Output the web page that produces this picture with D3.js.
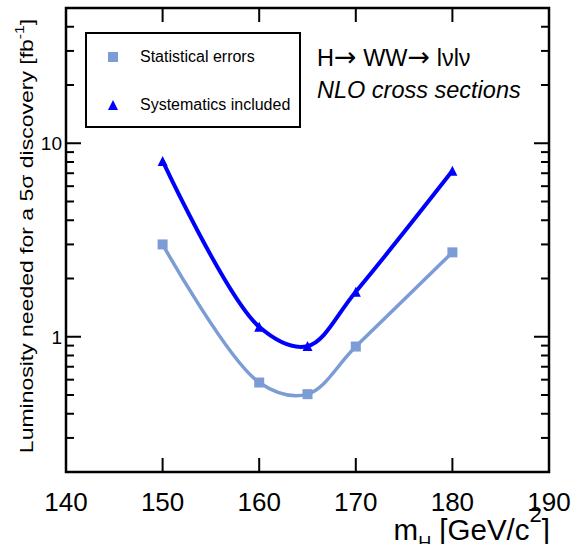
<!DOCTYPE html>
<html lang="en">
<head>
  <meta charset="UTF-8">
  <title>Luminosity for 5 sigma discovery</title>
  <style>
    *{ margin:0; padding:0; }
    body{ background:#fff; }
    text{ font-family: "Liberation Sans", Arial, sans-serif; }
  </style>
  <script src="https://cdn.jsdelivr.net/npm/d3@7"></script>
</head>
<body>
  <svg id="mainsvg"></svg>
  <script>
    // data
    const masses = [150, 160, 165, 170, 180]
    const statErrors = [3.0, 0.58, 0.505, 0.89, 2.73]
    const systIncluded = [8.1, 1.125, 0.895, 1.71, 7.2]
    const xTicks = [140, 150, 160, 170, 180, 190]
    const yMajorTicks = [1, 10]
    const yMinorTicks = [0.3, 0.4, 0.5, 0.6, 0.7, 0.8, 0.9, 2, 3, 4, 5, 6, 7, 8, 9, 20, 30, 40]
    const legendLabels = ['Statistical errors', 'Systematics included']

    const width = 575, height = 544
    const margin = { left: 66, top: 8, right: 26, bottom: 72 }
    const innerWidth = width - margin.left - margin.right
    const innerHeight = height - margin.top - margin.bottom

    const svg = d3.select('#mainsvg').attr('width', width).attr('height', height)
    const g = svg.append('g').attr('transform', `translate(${margin.left},${margin.top})`)

    const x = d3.scaleLinear().domain([140, 190]).range([0, innerWidth])
    const y = d3.scaleLog().domain([0.2, 50]).range([innerHeight, 0])

    const lightBlue = '#7b9cd4'
    const blue = '#0000ff'

    // ticks, drawn on all four sides pointing inwards
    const innerTicks = xTicks.filter(d => d > 140 && d < 190)
    const tickG = g.append('g').attr('stroke', '#000').attr('stroke-width', 2)
    innerTicks.forEach(d => {
      tickG.append('line').attr('x1', x(d)).attr('x2', x(d)).attr('y1', innerHeight).attr('y2', innerHeight - 14)
      tickG.append('line').attr('x1', x(d)).attr('x2', x(d)).attr('y1', 0).attr('y2', 14)
    })
    yMajorTicks.forEach(d => {
      tickG.append('line').attr('x1', 0).attr('x2', 15).attr('y1', y(d)).attr('y2', y(d))
      tickG.append('line').attr('x1', innerWidth).attr('x2', innerWidth - 15).attr('y1', y(d)).attr('y2', y(d))
    })
    yMinorTicks.forEach(d => {
      tickG.append('line').attr('x1', 0).attr('x2', 8).attr('y1', y(d)).attr('y2', y(d))
      tickG.append('line').attr('x1', innerWidth).attr('x2', innerWidth - 8).attr('y1', y(d)).attr('y2', y(d))
    })

    // tick labels
    g.append('g').selectAll('text').data(xTicks).join('text')
      .attr('x', d => x(d))
      .attr('y', innerHeight + 39)
      .attr('text-anchor', 'middle')
      .attr('font-size', 26)
      .text(d => d)
    g.append('g').selectAll('text').data(yMajorTicks).join('text')
      .attr('x', -4)
      .attr('y', d => y(d) + 7)
      .attr('text-anchor', 'end')
      .attr('font-size', 19)
      .text(d => d)

    // frame
    g.append('rect')
      .attr('width', innerWidth).attr('height', innerHeight)
      .attr('fill', 'none').attr('stroke', '#000').attr('stroke-width', 2.5)

    // curves
    const line = d3.line()
      .x((d, i) => x(masses[i]))
      .y(d => y(d))
      .curve(d3.curveCatmullRom.alpha(0.5))

    g.append('path').datum(statErrors)
      .attr('fill', 'none').attr('stroke', lightBlue).attr('stroke-width', 3.5)
      .attr('d', line)
    g.append('path').datum(systIncluded)
      .attr('fill', 'none').attr('stroke', blue).attr('stroke-width', 4)
      .attr('d', line)

    // markers
    function trianglePath(cx, cy, s) {
      return `M${cx},${cy - s / 2} L${cx + s / 2},${cy + s / 2} L${cx - s / 2},${cy + s / 2} Z`
    }
    g.append('g').selectAll('rect').data(statErrors).join('rect')
      .attr('x', (d, i) => x(masses[i]) - 5)
      .attr('y', d => y(d) - 5)
      .attr('width', 10).attr('height', 10)
      .attr('fill', lightBlue)
    g.append('g').selectAll('path').data(systIncluded).join('path')
      .attr('d', (d, i) => trianglePath(x(masses[i]), y(d), 10))
      .attr('fill', blue)

    // legend
    const legend = svg.append('g')
    legend.append('rect')
      .attr('x', 86).attr('y', 33).attr('width', 214).attr('height', 94)
      .attr('fill', '#fff').attr('stroke', '#000').attr('stroke-width', 2)
    legend.append('rect').attr('x', 108).attr('y', 52).attr('width', 10).attr('height', 10).attr('fill', lightBlue)
    legend.append('path').attr('d', trianglePath(113, 105, 10)).attr('fill', blue)
    legend.selectAll('text').data(legendLabels).join('text')
      .attr('x', 140)
      .attr('y', (d, i) => 62 + i * 48)
      .attr('font-size', 16)
      .text(d => d)

    // process label
    const proc = svg.append('text')
      .attr('x', 317).attr('y', 66)
      .attr('font-size', 23.5)
    proc.append('tspan').text('H')
    proc.append('tspan').attr('font-family', 'DejaVu Sans').attr('font-size', 27).text('\u2192')
    proc.append('tspan').text(' WW')
    proc.append('tspan').attr('font-family', 'DejaVu Sans').attr('font-size', 27).text('\u2192')
    proc.append('tspan').text(' l\u03bdl\u03bd')
    svg.append('text')
      .attr('x', 317).attr('y', 98)
      .attr('font-size', 23.5)
      .attr('font-style', 'italic')
      .text('NLO cross sections')

    // axis titles
    const xTitle = svg.append('text')
      .attr('x', 550).attr('y', 540)
      .attr('text-anchor', 'end')
      .attr('font-size', 29.5)
    xTitle.append('tspan').text('m')
    xTitle.append('tspan').attr('font-size', 18).attr('dy', 9).text('H')
    xTitle.append('tspan').attr('dy', -9).text(' [GeV/c')
    xTitle.append('tspan').attr('font-size', 22).attr('dy', -18).text('2')
    xTitle.append('tspan').attr('dy', 18).text(']')

    const yTitle = svg.append('text')
      .attr('transform', 'translate(33,236) rotate(-90) scale(1.21,1)')
      .attr('text-anchor', 'middle')
      .attr('font-size', 19)
    yTitle.append('tspan').text('Luminosity needed for a 5\u03c3 discovery [fb')
    yTitle.append('tspan').attr('font-size', 13).attr('dy', -9).text('-1')
    yTitle.append('tspan').attr('dy', 9).text(']')
  </script>
</body>
</html>
